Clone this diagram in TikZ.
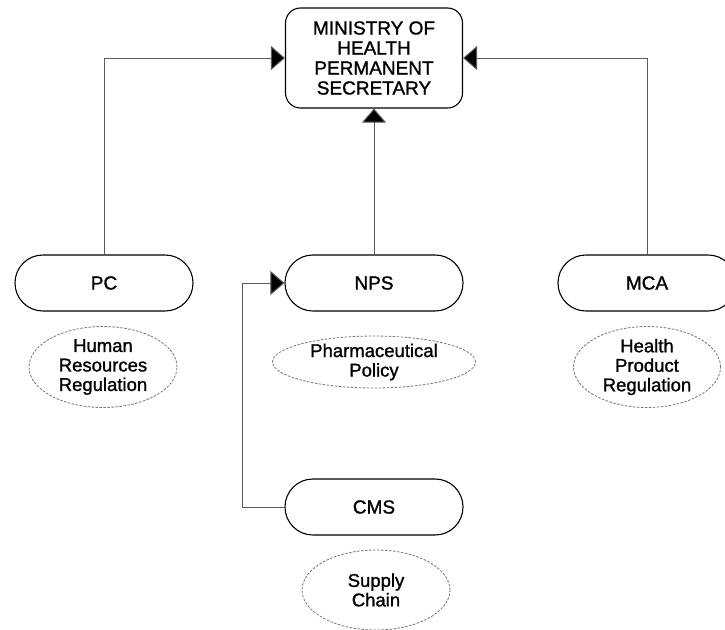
\documentclass[tikz,border=0pt]{standalone}
\usepackage{fontspec}
\setmainfont{Liberation Sans}[BoldFont={Liberation Sans}, BoldFeatures={FakeBold=1.2}]
\usetikzlibrary{arrows.meta,shapes.geometric}
\tikzset{
  headbox/.style={draw=black, line width=1.1pt, rounded corners=15pt, minimum width=177pt, minimum height=100pt, align=center, font=\fontsize{19}{20}\selectfont\bfseries, inner sep=0pt},
  unitbox/.style={draw=black, line width=1.1pt, rounded corners=27.9pt, minimum width=178pt, minimum height=56pt, align=center, font=\fontsize{19}{20}\selectfont\bfseries, inner sep=0pt},
  rolebubble/.style={ellipse, draw=black!55, dashed, dash pattern=on 2.5pt off 1.5pt, line width=0.8pt, inner sep=0pt, align=center, font=\fontsize{18.5}{19.5}\selectfont\bfseries},
  link/.style={draw=black!65, line width=1pt, -{Triangle[length=14pt,width=24pt,fill=black]}},
}
\begin{document}
\begin{tikzpicture}[x=1pt,y=-1pt]
\useasboundingbox (0,0) rectangle (725,629);
\node[headbox] (top) at (374,58) {MINISTRY OF\\HEALTH\\PERMANENT\\SECRETARY};
\node[unitbox] (pc) at (104,283) {PC};
\node[unitbox] (nps) at (374,283) {NPS};
\node[unitbox] (mca) at (647,283) {MCA};
\node[unitbox] (cms) at (374,507) {CMS};
\node[rolebubble, minimum width=148pt, minimum height=81pt] (hr) at (103,367) {Human\\Resources\\Regulation};
\node[rolebubble, minimum width=203pt, minimum height=49pt] (pp) at (374,362) {Pharmaceutical\\Policy};
\node[rolebubble, minimum width=147pt, minimum height=81pt] (hp) at (647,367) {Health\\Product\\Regulation};
\node[rolebubble, minimum width=148pt, minimum height=80pt] (sc) at (376,590) {Supply\\Chain};
\coordinate (bend) at (242,507);
\draw[link] (pc.north) |- (top.west);
\draw[link] (mca.north) |- (top.east);
\draw[link] (nps.north) -- (top.south);
\draw[link] (cms.west) -- (bend) |- (nps.west);
\end{tikzpicture}
\end{document}
